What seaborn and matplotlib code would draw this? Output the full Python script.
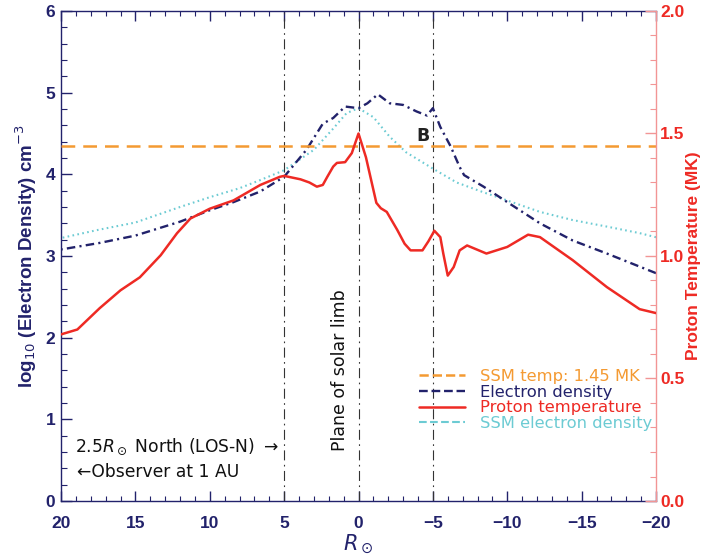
import matplotlib
matplotlib.use("Agg")
import matplotlib.pyplot as plt
import seaborn as sns
from matplotlib.ticker import MultipleLocator
from matplotlib.lines import Line2D

sns.set_theme(style="white")
plt.rcParams['font.family'] = ['Liberation Sans', 'DejaVu Sans']
plt.rcParams['mathtext.fontset'] = 'dejavusans'

NAVY = '#22226b'
RED = '#ee2a24'
ORANGE = '#f49a32'
CYAN = '#6ccbd3'
PINK = '#f29595'

# Electron density along the line of sight (log10 cm^-3)
ne_x = [20, 17.4, 15, 12, 10, 8.4, 6.6, 5, 3.5, 2.4, 1.7, 0.9, 0, -0.6, -1.3,
        -2.1, -3.0, -3.9, -4.6, -5.0, -5.5, -6.2, -6.8, -7.1, -8.4, -10.0,
        -12.2, -14.4, -16.7, -18.9, -20]
ne_val = [3.08, 3.16, 3.25, 3.42, 3.56, 3.66, 3.79, 3.97, 4.30, 4.62, 4.69,
          4.83, 4.81, 4.87, 4.98, 4.87, 4.85, 4.77, 4.72, 4.81, 4.58, 4.34,
          4.09, 3.99, 3.85, 3.66, 3.40, 3.19, 3.03, 2.87, 2.79]

# SSM model electron density (log10 cm^-3)
ssm_x = [20, 17.5, 15, 12, 10, 8, 6.6, 5, 3, 1.7, 0.8, 0, -1, -2.1, -3.2, -5,
         -6.6, -8.4, -10, -12.2, -14.4, -16.7, -18.9, -20]
ssm_val = [3.22, 3.32, 3.41, 3.60, 3.72, 3.83, 3.93, 4.05, 4.30, 4.56, 4.75,
           4.81, 4.70, 4.46, 4.27, 4.07, 3.90, 3.78, 3.68, 3.54, 3.44, 3.36,
           3.28, 3.23]

# Proton temperature (MK)
tp_x = [20, 18.9, 17.4, 16, 14.7, 13.3, 12.2, 11.3, 10, 8.4, 6.6, 5.3, 5, 3.9,
        3.3, 2.8, 2.4, 2.1, 1.7, 1.45, 0.9, 0.45, 0, -0.5, -0.85, -1.2, -1.5,
        -1.9, -2.6, -3.1, -3.5, -4.3, -4.7, -5.1, -5.5, -5.7, -6.0, -6.4,
        -6.8, -7.3, -8.6, -10, -11.4, -12.2, -14.4, -16.7, -18.9, -20]
tp_mk = [0.68, 0.70, 0.787, 0.86, 0.913, 1.003, 1.093, 1.153, 1.193, 1.227,
         1.29, 1.323, 1.327, 1.313, 1.30, 1.283, 1.29, 1.323, 1.365, 1.38,
         1.383, 1.42, 1.50, 1.403, 1.31, 1.217, 1.195, 1.18, 1.107, 1.05,
         1.023, 1.023, 1.06, 1.103, 1.077, 1.01, 0.92, 0.955, 1.023, 1.043,
         1.01, 1.037, 1.087, 1.077, 0.983, 0.873, 0.783, 0.767]

ssm_temp_mk = 1.45
marker_x = [5, 0, -5]
x_ticks = [20, 15, 10, 5, 0, -5, -10, -15, -20]
left_ticks = [0, 1, 2, 3, 4, 5, 6]
right_ticks = [0.0, 0.5, 1.0, 1.5, 2.0]

fig = plt.figure(figsize=(7.04, 5.56), dpi=100)
ax = fig.add_axes([61 / 704, 1 - 501 / 556, 595 / 704, 490 / 556])
ax.set_facecolor('white')
ax2 = ax.twinx()

for xv in marker_x:
    ax.axvline(xv, color='#333333', lw=0.8, ls=(0, (9, 4, 1.5, 4)), zorder=1)

sns.lineplot(x=ssm_x, y=ssm_val, ax=ax, color=CYAN, lw=1.5,
             linestyle=(0, (0.8, 1.6)), label='SSM electron density',
             legend=False, zorder=2)
sns.lineplot(x=ne_x, y=ne_val, ax=ax, color=NAVY, lw=1.7,
             linestyle=(0, (3.6, 1.8, 0.9, 1.8)), label='Electron density',
             legend=False, zorder=3)

ax2.axhline(ssm_temp_mk, color=ORANGE, lw=1.8, ls=(0, (5.5, 3.2)),
            label='SSM temp: 1.45 MK', zorder=2)
sns.lineplot(x=tp_x, y=tp_mk, ax=ax2, color=RED, lw=1.8,
             label='Proton temperature', legend=False, zorder=3)

ax.set_xlim(20, -20)
ax.set_ylim(0, 6)
ax2.set_ylim(0, 2.0)

ax.set_xticks(x_ticks)
ax.set_xticklabels([str(t).replace('-', '\u2212') for t in x_ticks])
ax.xaxis.set_minor_locator(MultipleLocator(1))
ax.set_yticks(left_ticks)
ax.yaxis.set_minor_locator(MultipleLocator(0.2))
ax2.set_yticks(right_ticks)
ax2.set_yticklabels([f'{t:.1f}' for t in right_ticks])
ax2.yaxis.set_minor_locator(MultipleLocator(0.1))

ax.tick_params(axis='x', which='both', direction='in', top=True, bottom=True,
               colors=NAVY, labelsize=12.5, pad=11)
ax.tick_params(axis='x', which='major', length=7, width=1)
ax.tick_params(axis='x', which='minor', length=3.5, width=0.8)
ax.tick_params(axis='y', which='both', direction='in', left=True, right=False,
               colors=NAVY, labelsize=12.5, pad=4)
ax.tick_params(axis='y', which='major', length=8, width=1)
ax.tick_params(axis='y', which='minor', length=4, width=0.8)
ax2.tick_params(axis='y', which='both', direction='in', right=True,
                colors=PINK, labelcolor=RED, labelsize=12.5, pad=3)
ax2.tick_params(axis='y', which='major', length=8, width=1)
ax2.tick_params(axis='y', which='minor', length=4, width=0.8)
for lab in ax.get_xticklabels() + ax.get_yticklabels() + ax2.get_yticklabels():
    lab.set_fontweight('bold')

for side in ['left', 'top', 'bottom']:
    ax.spines[side].set_color(NAVY)
    ax.spines[side].set_linewidth(1.0)
ax.spines['right'].set_visible(False)
for side in ['left', 'top', 'bottom']:
    ax2.spines[side].set_visible(False)
ax2.spines['right'].set_color(PINK)
ax2.spines['right'].set_linewidth(1.0)

ax.set_xlabel(r'$R_\odot$', color=NAVY, fontsize=15, labelpad=1)
ax.set_ylabel(r'log$_{10}$ (Electron Density) cm$^{-3}$', color=NAVY,
              fontsize=13.5, fontweight='bold', labelpad=5)
ax2.set_ylabel('Proton Temperature (MK)', color=RED, fontsize=12.5,
               fontweight='bold', labelpad=1)

ax.text(-4.35, 4.47, 'B', color='#222222', fontsize=12.5, fontweight='bold',
        ha='center', va='center', family=['DejaVu Sans'])
ax.text(1.25, 1.6, 'Plane of solar limb', rotation=90, color='#111111',
        fontsize=12.5, ha='center', va='center', family=['DejaVu Sans'])
ax.text(19.05, 0.66, r'2.5$R_\odot$ North (LOS-N) $\rightarrow$', color='#111111',
        fontsize=12.3, ha='left', va='center', family=['DejaVu Sans'])
ax.text(18.9, 0.355, '\u2190Observer at 1 AU', color='#111111',
        fontsize=12.3, ha='left', va='center', family=['DejaVu Sans'])

# Legend order: SSM temp, electron density, proton temperature, SSM density
h1, l1 = ax.get_legend_handles_labels()
h2, l2 = ax2.get_legend_handles_labels()
hmap = dict(zip(l1 + l2, h1 + h2))
order = ['SSM temp: 1.45 MK', 'Electron density', 'Proton temperature',
         'SSM electron density']
colors = [ORANGE, NAVY, RED, CYAN]
handles = [Line2D([0], [0], color=hmap[k].get_color(),
                  lw=hmap[k].get_linewidth(), ls=hmap[k].get_linestyle())
           for k in order]
leg = ax2.legend(handles, order, loc='upper left',
                 bbox_to_anchor=(0.602, 0.27), frameon=False,
                 handlelength=2.8, handletextpad=0.9, labelspacing=0.05,
                 borderpad=0, borderaxespad=0,
                 prop={'family': 'DejaVu Sans', 'size': 11.8})
for txt, c in zip(leg.get_texts(), colors):
    txt.set_color(c)

fig.savefig('out.png', dpi=100)
